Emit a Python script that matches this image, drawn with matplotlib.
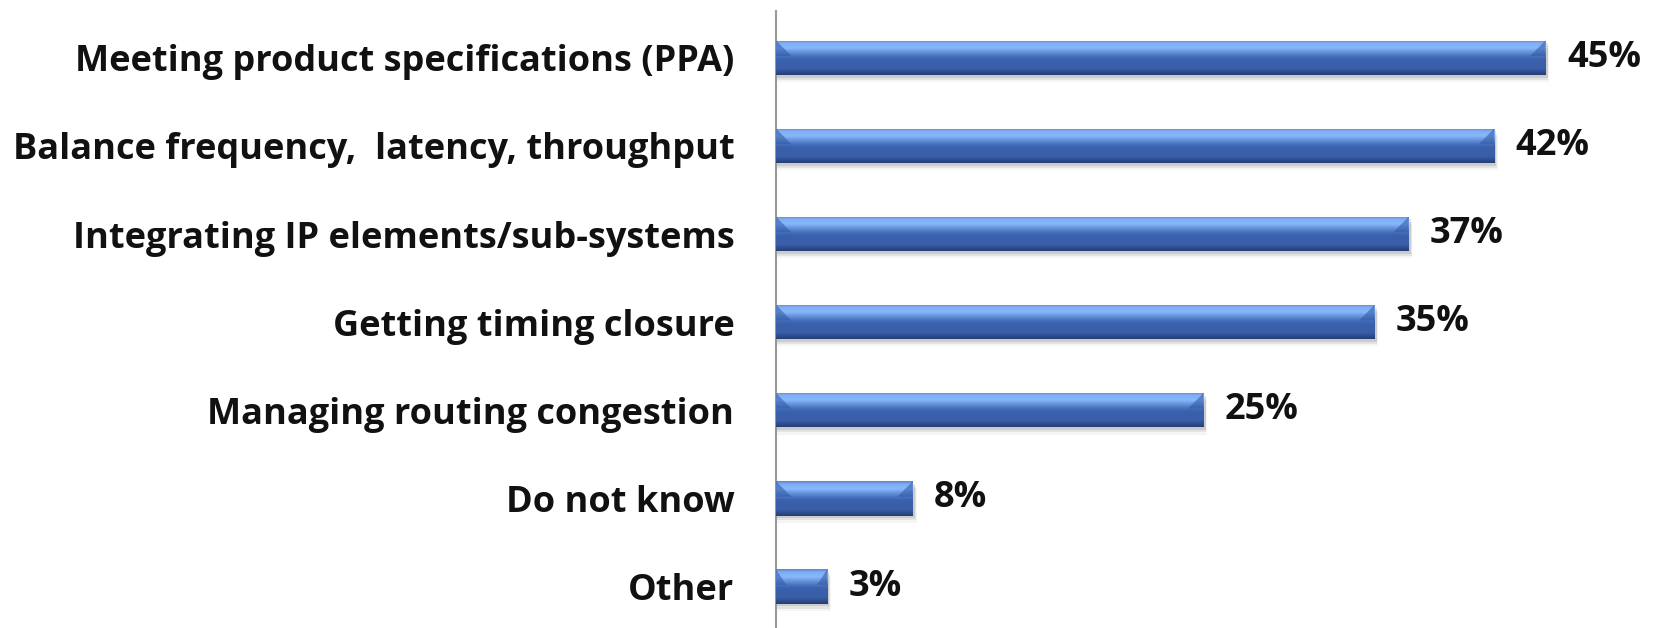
import numpy as np
import matplotlib
matplotlib.use("Agg")
import matplotlib.pyplot as plt
from matplotlib.colors import LinearSegmentedColormap
from matplotlib.patches import Rectangle

# ── Survey data ─────────────────────────────────────────────────────────────
categories = [
    "Meeting product specifications (PPA)",
    "Balance frequency,  latency, throughput",
    "Integrating IP elements/sub-systems",
    "Getting timing closure",
    "Managing routing congestion",
    "Do not know",
    "Other",
]
values = [45, 42, 37, 35, 25, 8, 3]
value_labels = ["45%", "42%", "37%", "35%", "25%", "8%", "3%"]

plt.rcParams["font.family"] = ["Open Sans", "DejaVu Sans"]

fig = plt.figure(figsize=(16.6, 6.28), dpi=100)
ax = fig.add_axes([776 / 1660, 0.0, 1 - 776 / 1660, 1 - 11 / 628])

y = np.arange(len(categories))
bar_h = 0.39

# soft shadow under each bar
for yi, v in zip(y, values):
    for k, a in enumerate([0.10, 0.07, 0.04]):
        off = 0.03 + 0.025 * k
        ax.add_patch(Rectangle((0, yi - bar_h / 2 + off), v + 0.12 + 0.05 * k, bar_h,
                               facecolor="#000000", alpha=a, lw=0, zorder=1))

bars = ax.barh(y, values, height=bar_h, color="#3A60AC", zorder=2)

# vertical glossy gradient across each bar
grad = LinearSegmentedColormap.from_list("gloss", [
    (0.00, "#5C86CF"), (0.08, "#7FAEF2"), (0.22, "#86B8FA"),
    (0.45, "#4A74C0"), (0.55, "#3B60AC"), (0.82, "#3A5EA8"),
    (0.92, "#2E4C8C"), (1.00, "#253E75")])
col = np.linspace(0, 1, 64).reshape(-1, 1)
for b in bars:
    x0, y0, w, h = b.get_x(), b.get_y(), b.get_width(), b.get_height()
    im = ax.imshow(col, cmap=grad, aspect="auto", extent=(x0, x0 + w, y0 + h, y0),
                   zorder=3, interpolation="bilinear")
    im.set_clip_path(b)
    # bevelled ends
    bev = min(0.9, w * 0.2)
    ax.fill([x0, x0 + bev, x0], [y0, y0 + h * 0.45, y0 + h * 0.45],
            color="#2F56A3", alpha=0.55, lw=0, zorder=4)
    ax.fill([x0 + w, x0 + w - bev, x0 + w], [y0, y0 + h * 0.45, y0 + h * 0.45],
            color="#2F56A3", alpha=0.55, lw=0, zorder=4)

for yi, v, lab in zip(y, values, value_labels):
    ax.text(v + 1.25, yi, lab, va="center", ha="left", fontsize=26,
            fontweight="bold", color="#111111")

ax.set_yticks(y)
ax.set_yticklabels(categories, fontsize=26, fontweight="bold", color="#111111")
ax.tick_params(axis="y", length=0, pad=30)
ax.set_xticks([])
ax.set_xlim(0, 884 / 17.1)
ax.set_ylim(6.47, -0.53)
for s in ["top", "right", "bottom"]:
    ax.spines[s].set_visible(False)
ax.spines["left"].set_color("#999999")
ax.spines["left"].set_linewidth(1.5)

fig.savefig("out.png", dpi=100)
